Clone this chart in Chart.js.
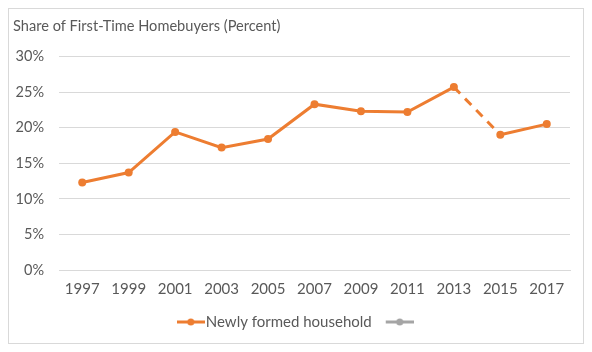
<!DOCTYPE html>
<html>
<head>
<meta charset="utf-8">
<script src="https://cdn.jsdelivr.net/npm/chart.js@4"></script>
<style>
  body { margin: 0; background: #fff; }
  #box { position: absolute; left: 8px; top: 8px; width: 574px; height: 334px; border: 1px solid #d9d9d9; }
</style>
</head>
<body>
<div id="box"><canvas id="chart"></canvas></div>
<script>
const years = ['1997', '1999', '2001', '2003', '2005', '2007', '2009', '2011', '2013', '2015', '2017'];
const newlyFormed = [12.3, 13.7, 19.4, 17.2, 18.4, 23.3, 22.3, 22.2, 25.7, 19.0, 20.5];
const otherSeries = [null, null, null, null, null, null, null, null, null, null, null];
const yTicks = [0, 5, 10, 15, 20, 25, 30];

const orange = '#ed7d31',
    grey = '#a5a5a5',
    textColor = '#595959';

// little line + dot swatch like the Excel legend, shift = empty space on the left
function swatch(color, shift) {
    let c = document.createElement('canvas');
    c.width = 28 + shift; c.height = 10;
    let g = c.getContext('2d');
    g.strokeStyle = color;
    g.lineWidth = 3;
    g.beginPath(); g.moveTo(shift, 5); g.lineTo(shift + 28, 5); g.stroke();
    g.fillStyle = color;
    g.beginPath(); g.arc(shift + 14, 5, 3.5, 0, Math.PI * 2); g.fill();
    return c;
}

// keep the legend box short and nudge the row to the right
const legendFit = {
    id: 'legendFit',
    afterInit(chart) {
        const lg = chart.legend, orig = lg.fit;
        lg.fit = function () {
            orig.call(this);
            this.height = 39;
            if (this.lineWidths && this.lineWidths.length) this.lineWidths[0] -= 9;
        };
    }
};

Chart.defaults.font.family = 'Lato';
Chart.defaults.color = textColor;

const data = {
    labels: years,
    datasets: [{
        label: 'Newly formed household',
        data: newlyFormed,
        borderColor: orange,
        backgroundColor: orange,
        borderWidth: 3,
        pointRadius: 4,
        pointBackgroundColor: orange,
        pointBorderWidth: 0,
        segment: {
            borderDash: ctx => ctx.p0DataIndex === 8 ? [9, 7] : undefined
        },
        legendStyle: swatch(orange, 0)
    }, {
        label: '',
        data: otherSeries,
        borderColor: grey,
        backgroundColor: grey,
        legendStyle: swatch(grey, 12)
    }]
};

const config = {
    type: 'line',
    data: data,
    plugins: [legendFit],
    options: {
        responsive: true,
        maintainAspectRatio: false,
        animation: false,
        layout: { padding: { left: 4, right: 13, top: 6, bottom: 4 } },
        plugins: {
            title: {
                display: true,
                text: 'Share of First-Time Homebuyers (Percent)',
                align: 'start',
                color: textColor,
                font: { size: 14.6, weight: 'normal' },
                padding: { top: 3, bottom: 21 }
            },
            legend: {
                position: 'bottom',
                labels: {
                    color: textColor,
                    font: { size: 15 },
                    usePointStyle: true,
                    padding: 14.5,
                    generateLabels: chart => chart.data.datasets.map((ds, i) => ({
                        text: ds.label,
                        pointStyle: ds.legendStyle,
                        fontColor: textColor,
                        datasetIndex: i
                    }))
                }
            },
            tooltip: { enabled: false }
        },
        scales: {
            x: {
                offset: true,
                grid: { display: false },
                border: { display: true, color: '#d9d9d9' },
                ticks: { font: { size: 15 }, color: textColor, maxRotation: 0, autoSkip: false, padding: 2 }
            },
            y: {
                min: yTicks[0],
                max: yTicks[yTicks.length - 1],
                afterBuildTicks: axis => { axis.ticks = yTicks.map(v => ({ value: v })); },
                afterFit: axis => { axis.width = 46; },
                grid: { color: '#d9d9d9', drawTicks: false },
                border: { display: false },
                ticks: { font: { size: 14.5 }, color: textColor, padding: 15, callback: v => v + '%' }
            }
        }
    }
};

const myChart = new Chart(document.getElementById('chart'), config);
</script>
</body>
</html>
